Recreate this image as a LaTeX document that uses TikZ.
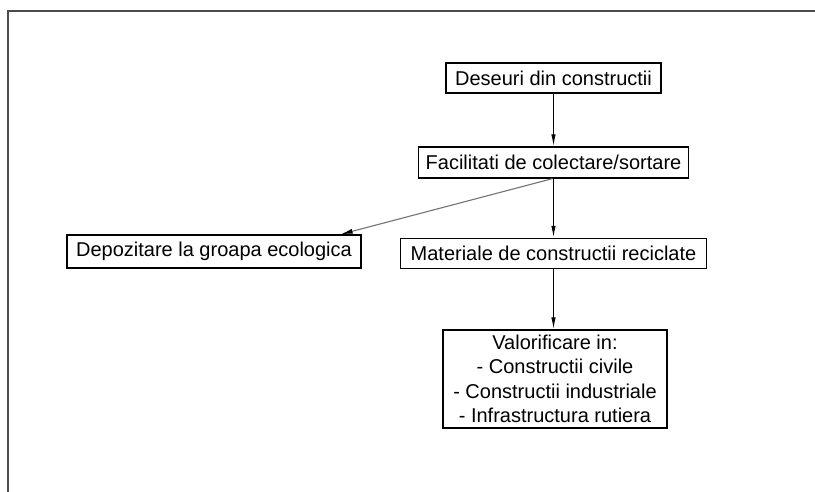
\documentclass[tikz,border=0pt]{standalone}
\usepackage{fontspec}
\setmainfont{Liberation Sans}
\usetikzlibrary{arrows.meta,calc}
\tikzset{
  box/.style={draw=black, line width=1.3pt, fill=white, inner sep=0pt,
    font=\fontsize{20}{24.5}\selectfont, align=center},
  arr/.style={line width=1.2pt, -{Latex[length=12pt,width=4.5pt]}},
  garr/.style={line width=1.1pt, draw=black!55, -{Latex[length=12pt,width=5pt,fill=black,color=black]}},
  frame/.style={line width=2pt, draw=black!70}
}
\begin{document}
\begin{tikzpicture}[x=1pt,y=1pt]
\useasboundingbox (0,0) rectangle (815,492);
\fill[white] (0,0) rectangle (815,492);
\draw[frame] (7.5,-5) -- (7.5,480.5) -- (825,480.5);
\node[box, minimum width=215pt, minimum height=30pt] (des) at (553.5,414) {Deseuri din constructii};
\node[box, minimum width=270pt, minimum height=31pt] (fac) at (553.5,329.5) {Facilitati de colectare/sortare};
\node[box, minimum width=294pt, minimum height=33pt] (dep) at (214,240.5) {Depozitare la groapa ecologica};
\node[box, minimum width=306pt, minimum height=30pt] (mat) at (553.5,238.5) {Materiale de constructii reciclate};
\node[box, minimum width=224pt, minimum height=98pt] (val) at (555,113) {Valorificare in:\\- Constructii civile\\- Constructii industriale\\- Infrastructura rutiera};
\coordinate (depin) at ($(dep.north east)+(-21pt,0)$);
\draw[arr] (des.south) -- (fac.north);
\draw[arr] (fac.south) -- (mat.north);
\draw[arr] (mat.south) -- (mat.south |- val.north);
\draw[garr] ($(fac.south)+(-1pt,0)$) -- (depin);
\end{tikzpicture}
\end{document}
